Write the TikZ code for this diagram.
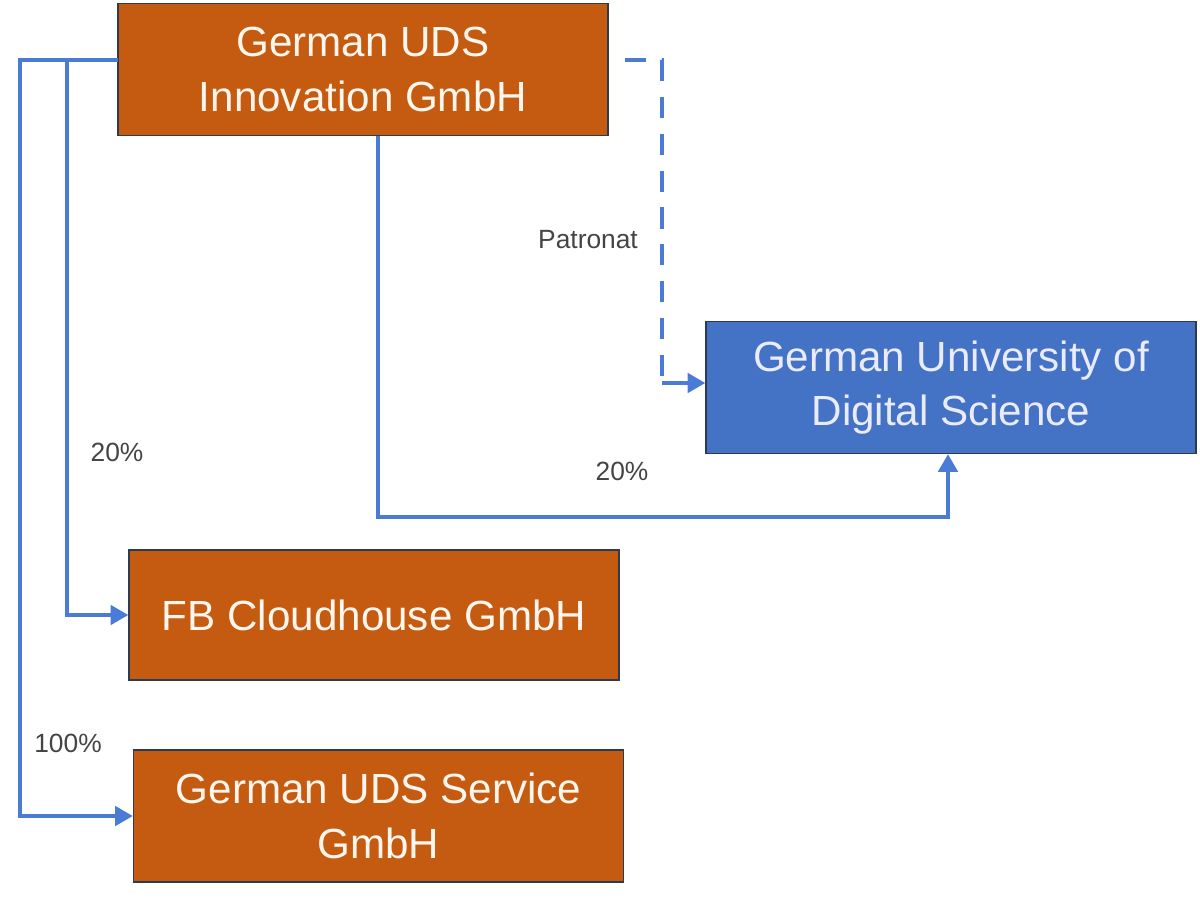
\documentclass[tikz,border=0pt]{standalone}
\usepackage{fontspec}
\setmainfont{Liberation Sans}
\usetikzlibrary{arrows.meta}
\definecolor{orangebox}{HTML}{C55A11}
\definecolor{bluebox}{HTML}{4472C4}
\definecolor{linkblue}{HTML}{4A7BD6}
\definecolor{edge}{HTML}{2E3A4E}
\definecolor{labelgray}{HTML}{444444}
\tikzset{
  orgbox/.style={draw=edge, line width=0.8pt, fill=orangebox, text=white!93!orange,
    minimum width=490*0.02cm, minimum height=132*0.02cm, align=center,
    font=\fontsize{24}{31}\selectfont, inner sep=0pt},
  unibox/.style={orgbox, fill=bluebox, text=white!92!blue},
  link/.style={draw=linkblue, line width=2pt},
  tip/.style={-{Triangle[length=10pt,width=11pt]}},
  dashlink/.style={link, dash pattern=on 12pt off 9pt},
  lbl/.style={text=labelgray, font=\fontsize{15}{17}\selectfont, inner sep=0pt}
}
\begin{document}
\begin{tikzpicture}[x=0.02cm,y=-0.02cm]
\useasboundingbox (0,0) rectangle (1200,900);
% boxes
\node[orgbox] (top) at (363,69.5) {German UDS\\Innovation GmbH};
\node[unibox] (gu) at (951,387.5) {German University of\\Digital Science};
\node[orgbox, minimum height=130*0.02cm] (fb) at (374,615) {FB Cloudhouse GmbH};
\node[orgbox] (svc) at (378.5,816) {German UDS Service\\GmbH};
% connector coordinates
\coordinate (tl) at (118,60);
\coordinate (outer) at (20,60);
\coordinate (inner) at (67,60);
\coordinate (b0) at (378,136);
\coordinate (b1) at (948,517);
\coordinate (d0) at (625,60);
\coordinate (d1) at (662,60);
\coordinate (d2) at (662,383);
% connectors
\draw[link, tip] (tl) -- (outer) |- (svc.west);
\draw[link, tip] (inner) |- (fb.west);
\draw[link, tip] (b0) |- (b1) -- (b1 |- gu.south);
\draw[dashlink] (d0) -- (d1) -- (d2);
\draw[link, tip] (d2) -- (d2 -| gu.west);
% labels
\node[lbl] (lpat) at (588,240) {Patronat};
\node[lbl] (l20a) at (622,471) {20\%};
\node[lbl] (l20b) at (117,452) {20\%};
\node[lbl] (l100) at (68,743) {100\%};
\end{tikzpicture}
\end{document}
